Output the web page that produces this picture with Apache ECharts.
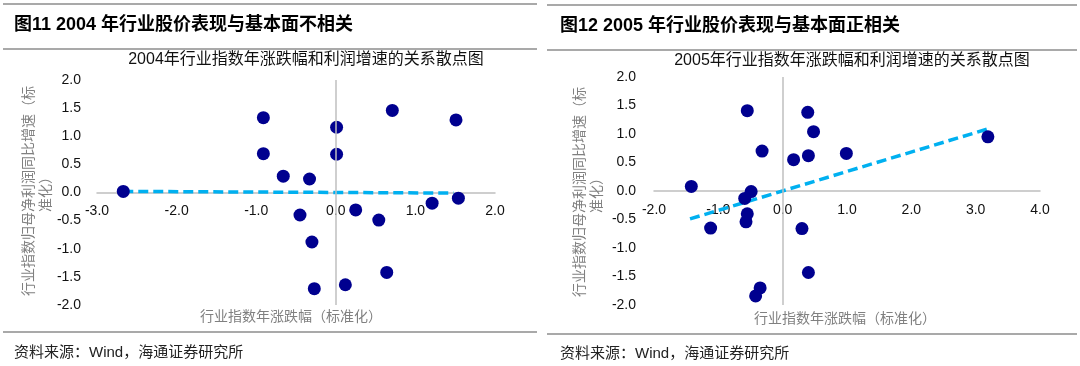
<!DOCTYPE html>
<html>
<head>
<meta charset="utf-8">
<script src="https://cdn.jsdelivr.net/npm/echarts@6/dist/echarts.min.js"></script>
<style>html,body{margin:0;padding:0;background:#fff;}#c{width:1080px;height:366px;}</style>
</head>
<body>
<div id="c"></div>
<script>
// ---- data ----
// 2004: [行业指数年涨跌幅(标准化), 归母净利润同比增速(标准化)]
var points2004 = [
  [-2.67, 0.02], [-0.91, 1.33], [-0.91, 0.69], [-0.66, 0.29], [-0.33, 0.24],
  [0.01, 1.16], [0.01, 0.68], [0.71, 1.46], [1.51, 1.29], [1.21, -0.19],
  [1.54, -0.10], [0.25, -0.31], [-0.45, -0.40], [0.54, -0.49], [-0.30, -0.88],
  [0.64, -1.42], [-0.27, -1.71], [0.12, -1.64]
];
var trend2004 = [[-2.67, 0.02], [1.48, -0.01]];
// 2005
var points2005 = [
  [-1.42, 0.08], [-0.55, 1.41], [0.39, 1.38], [0.48, 1.04], [-0.32, 0.70],
  [0.17, 0.55], [0.40, 0.62], [0.99, 0.66], [3.19, 0.95], [-0.49, -0.01],
  [-0.59, -0.13], [-0.55, -0.40], [-0.57, -0.54], [-1.12, -0.65], [0.30, -0.66],
  [0.40, -1.43], [-0.35, -1.70], [-0.42, -1.84]
];
var trend2005 = [[-1.44, -0.49], [3.22, 1.10]];
// axis ranges / ticks
var xTicks2004 = { min: -3, max: 2, interval: 1 };
var xTicks2005 = { min: -2, max: 4, interval: 1 };
var yTicks = { min: -2, max: 2, interval: 0.5 };
// texts
var headings = ['图11 2004 年行业股价表现与基本面不相关', '图12 2005 年行业股价表现与基本面正相关'];
var subtitles = ['2004年行业指数年涨跌幅和利润增速的关系散点图', '2005年行业指数年涨跌幅和利润增速的关系散点图'];
var xName = '行业指数年涨跌幅（标准化）';
var yName = '行业指数归母净利润同比增速（标\n准化）';
var sourceText = '资料来源：Wind，海通证券研究所';

// ---- chart ----
var NUM_FONT = '"Liberation Sans", Arial, sans-serif';
var CJK_FONT = '"Liberation Sans", "Noto Sans CJK SC", sans-serif';
var AXIS_GRAY = '#bfbfbf';
var DOT = '#00008f';
var TREND = '#00b0f0';
var grids = [
  { left: 97, top: 80, width: 398, height: 225 },
  { left: 654, top: 77, width: 386, height: 228 }
];
var chart = echarts.init(document.getElementById('c'), null, { renderer: 'canvas' });

function fmt(v) { return v.toFixed(1); }

function xAxisOf(idx, t) {
  // place the axis (line + labels) at y = 0
  var off = -grids[idx].height * (0 - yTicks.min) / (yTicks.max - yTicks.min);
  return {
    gridIndex: idx, type: 'value', min: t.min, max: t.max, interval: t.interval,
    position: 'bottom', offset: off,
    axisLine: { show: true, onZero: false, lineStyle: { color: AXIS_GRAY, width: 1.5 } },
    axisTick: { show: false }, splitLine: { show: false },
    axisLabel: { formatter: fmt, color: '#111', fontSize: 14, fontFamily: NUM_FONT, margin: 12, showMinLabel: true, showMaxLabel: true }
  };
}
function yAxisOf(idx, margin) {
  return {
    gridIndex: idx, type: 'value', min: yTicks.min, max: yTicks.max, interval: yTicks.interval,
    axisLine: { show: false, onZero: false }, axisTick: { show: false }, splitLine: { show: false },
    axisLabel: { formatter: fmt, color: '#111', fontSize: 14, fontFamily: NUM_FONT, margin: margin }
  };
}
function seriesOf(idx, pts, trend) {
  return [
    {
      type: 'line', xAxisIndex: idx, yAxisIndex: idx, data: trend, symbol: 'none', silent: true, z: 3,
      lineStyle: { color: TREND, width: 3.5, type: [10, 5] },
      markLine: {
        silent: true, symbol: 'none', label: { show: false }, animation: false,
        lineStyle: { color: AXIS_GRAY, width: 1.5, type: 'solid' },
        data: [{ xAxis: 0 }]
      }
    },
    {
      type: 'scatter', xAxisIndex: idx, yAxisIndex: idx, data: pts, symbolSize: 13, z: 4,
      itemStyle: { color: DOT, opacity: 1 }
    }
  ];
}
function hline(x1, x2, y) {
  return { type: 'line', shape: { x1: x1, y1: y, x2: x2, y2: y }, style: { stroke: '#555', lineWidth: 1.2 }, silent: true };
}
function txt(x, y, text, opts) {
  var s = Object.assign({ text: text, x: 0, y: 0, fill: '#000', font: '15px ' + CJK_FONT, align: 'left', verticalAlign: 'middle' }, opts.style || {});
  var g = { type: 'text', x: x, y: y, style: s, silent: true };
  if (opts.rotation) g.rotation = opts.rotation;
  return g;
}

var option = {
  animation: false,
  backgroundColor: '#fff',
  grid: grids,
  xAxis: [xAxisOf(0, xTicks2004), xAxisOf(1, xTicks2005)],
  yAxis: [yAxisOf(0, 16), yAxisOf(1, 18)],
  series: seriesOf(0, points2004, trend2004).concat(seriesOf(1, points2005, trend2005)),
  graphic: [
    hline(3, 537, 4), hline(3, 537, 49), hline(3, 537, 332),
    hline(547, 1077, 5), hline(547, 1077, 50), hline(547, 1077, 334),
    txt(14, 25, headings[0], { style: { font: 'bold 18px ' + CJK_FONT } }),
    txt(560, 26, headings[1], { style: { font: 'bold 18px ' + CJK_FONT } }),
    txt(306, 60, subtitles[0], { style: { align: 'center', font: '16px ' + CJK_FONT, fill: '#111' } }),
    txt(852, 61, subtitles[1], { style: { align: 'center', font: '16px ' + CJK_FONT, fill: '#111' } }),
    txt(291, 317, xName, { style: { align: 'center', font: '14px ' + CJK_FONT, fill: '#808080' } }),
    txt(845, 319, xName, { style: { align: 'center', font: '14px ' + CJK_FONT, fill: '#808080' } }),
    txt(38, 191, yName, { rotation: Math.PI / 2, style: { align: 'center', font: '14px ' + CJK_FONT, fill: '#808080', lineHeight: 17 } }),
    txt(589, 192, yName, { rotation: Math.PI / 2, style: { align: 'center', font: '14px ' + CJK_FONT, fill: '#808080', lineHeight: 17 } }),
    txt(14, 353, sourceText, { style: { font: '15px ' + CJK_FONT, fill: '#222' } }),
    txt(560, 354, sourceText, { style: { font: '15px ' + CJK_FONT, fill: '#222' } })
  ]
};
chart.setOption(option);
</script>
</body>
</html>
